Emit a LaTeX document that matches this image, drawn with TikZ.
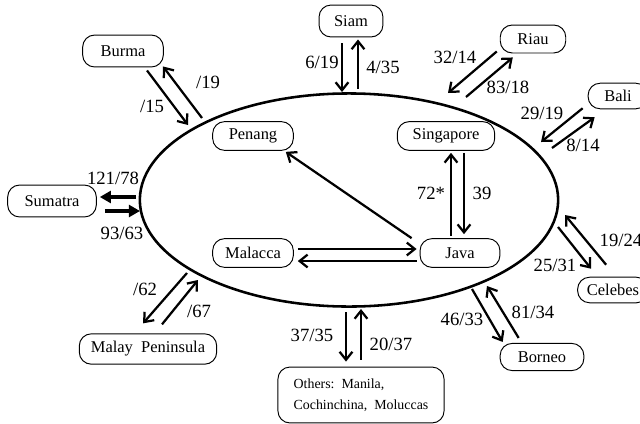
\documentclass[tikz,border=0pt]{standalone}
\usepackage{fontspec}
\setmainfont{Liberation Serif}
\usetikzlibrary{shapes.geometric,arrows.meta}
\begin{document}
\begin{tikzpicture}[
      x=0.022cm, y=-0.022cm,
      port/.style={draw, line width=0.6pt, rounded corners=7.5pt, minimum height=18pt, inner sep=1pt, font=\fontsize{10.3}{12}\selectfont},
      lab/.style={inner sep=0pt, font=\fontsize{11.7}{13}\selectfont},
      flow/.style={line width=1.4pt, -{Straight Barb[length=5pt,width=8pt]}},
      heavy/.style={line width=2.6pt, -{Triangle[length=7pt,width=7.5pt]}}
    ]
    \useasboundingbox (0,0) rectangle (640,424);
    \node[draw, ellipse, line width=1.6pt, minimum width=261.9pt, minimum height=133.4pt, inner sep=0pt] (region) at (349,200) {};
    \node[port, minimum width=50.5pt, minimum height=20pt] (burma) at (123,51) {Burma};
    \node[port, minimum width=40pt, minimum height=20pt] (siam) at (351,21) {Siam};
    \node[port, minimum width=41pt, minimum height=17.5pt] (riau) at (533,39) {Riau};
    \node[port, minimum width=37.4pt, minimum height=16pt] (bali) at (618,96) {Bali};
    \node[port, minimum width=50.5pt] (penang) at (253,136) {Penang};
    \node[port, minimum width=61pt] (singapore) at (446,136) {Singapore};
    \node[port, minimum width=55.5pt, minimum height=20pt] (sumatra) at (52,201) {Sumatra};
    \node[port, minimum width=50.5pt] (malacca) at (253,253) {Malacca};
    \node[port, minimum width=50pt] (java) at (460,253) {Java};
    \node[port, minimum width=44.3pt, minimum height=16pt] (celebes) at (613,290) {Celebes};
    \node[port, minimum width=52.4pt, minimum height=17pt] (borneo) at (542,357) {Borneo};
    \node[port, minimum width=86pt, minimum height=19pt] (malay) at (148,349) {Malay\enspace Peninsula};
    \node[port, minimum width=104pt, minimum height=35pt, align=left, font=\fontsize{8.7}{13}\selectfont] (others) at (361,395) {Others:\enspace Manila,\\Cochinchina,\enspace Moluccas};
    \coordinate (burma-in) at (188,125);
    \coordinate (burma-out) at (202,118);
    \coordinate (siam-in) at (342,92);
    \coordinate (siam-out) at (358,89);
    \coordinate (riau-in) at (448,93);
    \coordinate (riau-out) at (466,97);
    \coordinate (bali-in) at (541,142);
    \coordinate (bali-out) at (552,148);
    \coordinate (sumatra-in) at (140,211);
    \coordinate (sumatra-out) at (136,197);
    \coordinate (malay-out) at (187,273);
    \coordinate (malay-in) at (198,280);
    \coordinate (others-out) at (346,312);
    \coordinate (others-in) at (361,309);
    \coordinate (borneo-out) at (472,289);
    \coordinate (borneo-in) at (487,286);
    \coordinate (celebes-out) at (558,227);
    \coordinate (celebes-in) at (565,215);
    \draw[flow] ([shift={(24,3)}]burma.south) -- (burma-in);
    \draw[flow] (burma-out) -- ([shift={(40,-1)}]burma.south);
    \draw[flow] ([shift={(-9,6)}]siam.south) -- (siam-in);
    \draw[flow] (siam-out) -- ([shift={(7,2)}]siam.south);
    \draw[flow] ([shift={(-3,-2)}]riau.south west) -- (riau-in);
    \draw[flow] (riau-out) -- ([shift={(13,4)}]riau.south west);
    \draw[flow] ([shift={(-5,-1)}]bali.south west) -- (bali-in);
    \draw[flow] (bali-out) -- ([shift={(7,8)}]bali.south west);
    \draw[flow] ([shift={(-9,-2)}]java.north) -- ([shift={(5,2)}]singapore.south);
    \draw[flow] ([shift={(18,2)}]singapore.south) -- ([shift={(4,-4)}]java.north);
    \draw[flow] ([shift={(-8,0)}]java.north west) -- ([shift={(-8,1)}]penang.south east);
    \draw[flow] ([shift={(4,-4)}]malacca.east) -- ([shift={(-3,-4)}]java.west);
    \draw[flow] ([shift={(-3,8)}]java.west) -- ([shift={(4,8)}]malacca.east);
    \draw[heavy] (sumatra-out) -- ([shift={(3,-4)}]sumatra.east);
    \draw[heavy] ([shift={(8,10)}]sumatra.east) -- (sumatra-in);
    \draw[flow] (malay-out) -- ([shift={(-5,-10)}]malay.north);
    \draw[flow] ([shift={(14,-9)}]malay.north) -- (malay-in);
    \draw[flow] (others-out) -- ([shift={(-15,-5)}]others.north);
    \draw[flow] ([shift={(0,-7)}]others.north) -- (others-in);
    \draw[flow] (borneo-out) -- ([shift={(3,-1)}]borneo.north west);
    \draw[flow] ([shift={(19,-5)}]borneo.north west) -- (borneo-in);
    \draw[flow] (celebes-out) -- ([shift={(14,-8)}]celebes.north west);
    \draw[flow] ([shift={(29,-12)}]celebes.north west) -- (celebes-in);
    \node[lab] (burma-l1) at (152,106) {/15};
    \node[lab] (burma-l2) at (208,82) {/19};
    \node[lab] (siam-l1) at (322,62) {6/19};
    \node[lab] (siam-l2) at (383,67) {4/35};
    \node[lab] (riau-l1) at (455,57) {32/14};
    \node[lab] (riau-l2) at (508,87) {83/18};
    \node[lab] (bali-l1) at (542,113) {29/19};
    \node[lab] (bali-l2) at (583,145) {8/14};
    \node[lab] (java-l1) at (431,193) {72*};
    \node[lab] (java-l2) at (482,193) {39};
    \node[lab] (sumatra-l1) at (113,178) {121/78};
    \node[lab] (sumatra-l2) at (122,233) {93/63};
    \node[lab] (malay-l1) at (145,289) {/62};
    \node[lab] (malay-l2) at (199,311) {/67};
    \node[lab] (others-l1) at (312,335) {37/35};
    \node[lab] (others-l2) at (391,344) {20/37};
    \node[lab] (borneo-l1) at (462,319) {46/33};
    \node[lab] (borneo-l2) at (533,312) {81/34};
    \node[lab] (celebes-l1) at (555,265) {25/31};
    \node[lab] (celebes-l2) at (621,240) {19/24};
  \end{tikzpicture}
\end{document}
